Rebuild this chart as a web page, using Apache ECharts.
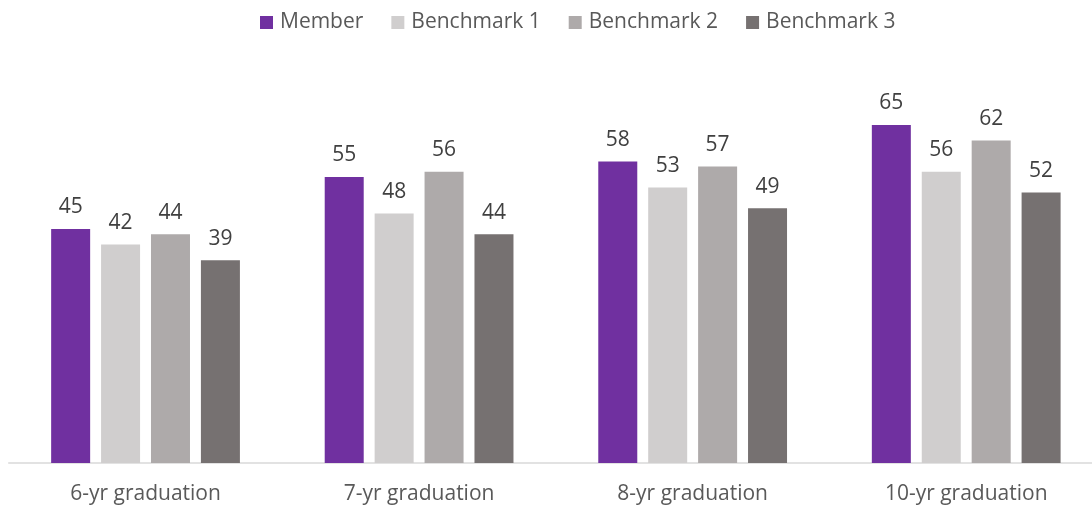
<!DOCTYPE html>
<html><head><meta charset="utf-8">
<script src="https://cdn.jsdelivr.net/npm/echarts@6/dist/echarts.min.js"></script>
<style>html,body{margin:0;padding:0;background:#fff;overflow:hidden;width:1092px;height:508px}#c{width:1103px;height:508px}</style>
</head><body><div id="c"></div>
<script>
const categories = ['6-yr graduation', '7-yr graduation', '8-yr graduation', '10-yr graduation'];
const seriesNames = ['Member', 'Benchmark 1', 'Benchmark 2', 'Benchmark 3'];
const member = [45, 55, 58, 65];
const benchmark1 = [42, 48, 53, 56];
const benchmark2 = [44, 56, 57, 62];
const benchmark3 = [39, 44, 49, 52];
const colors = ['#7030A0', '#D0CECE', '#AEAAAA', '#767171'];
const allData = [member, benchmark1, benchmark2, benchmark3];
const font = '"Open Sans", sans-serif';
const chart = echarts.init(document.getElementById('c'));
chart.setOption({
  animation: false,
  legend: {
    top: 12, left: 260, padding: 0, itemWidth: 13, itemHeight: 13, itemGap: 28,
    icon: 'rect',
    textStyle: { color: '#595959', fontSize: 21, fontFamily: font, padding: [0, 0, 0, 2] },
    data: seriesNames
  },
  grid: { left: 8.75, right: 0, top: 47, height: 416 },
  xAxis: {
    type: 'category', data: categories,
    axisLine: { lineStyle: { color: '#D9D9D9', width: 1.5 } },
    axisTick: { show: false },
    axisLabel: { color: '#595959', fontSize: 21, fontFamily: font, margin: 21 }
  },
  yAxis: { type: 'value', min: 0, max: 80, show: false, splitLine: { show: false } },
  series: allData.map((d, i) => ({
    name: seriesNames[i], type: 'bar', data: d, barWidth: 39, barGap: '28%',
    itemStyle: { color: colors[i] },
    label: { show: true, position: 'top', distance: 11, color: '#404040', fontSize: 21, fontFamily: font }
  }))
});
</script></body></html>
